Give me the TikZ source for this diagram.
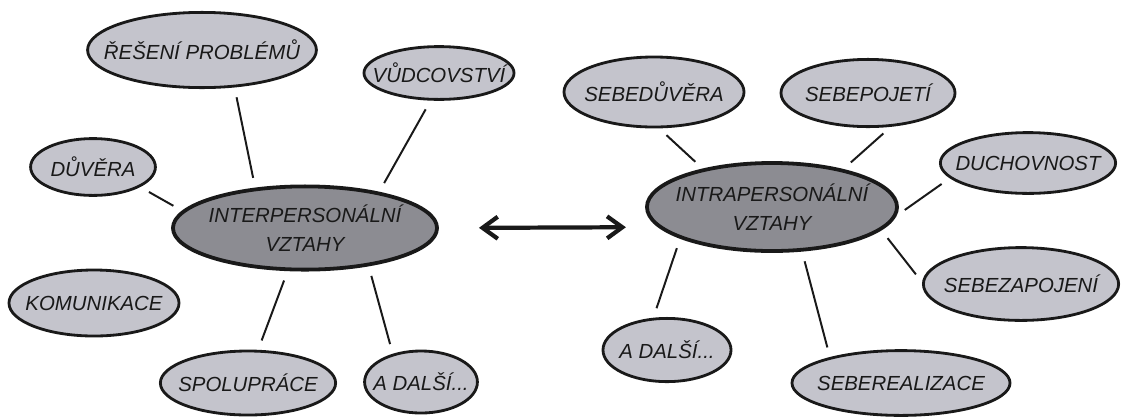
\documentclass[tikz,border=0pt]{standalone}
\usepackage{fontspec}
\setmainfont{Liberation Sans}
\usetikzlibrary{shapes.geometric, arrows.meta}

\definecolor{leaf}{RGB}{196,196,204}
\definecolor{hubgray}{RGB}{140,140,146}
\definecolor{ink}{RGB}{25,25,25}

\begin{document}
\begin{tikzpicture}[x=0.025cm, y=-0.025cm,
 idea/.style={ellipse, draw=ink, line width=2pt, fill=leaf, inner sep=0pt},
 hub/.style={idea, line width=2.7pt, fill=hubgray},
 size/.style 2 args={minimum width=#1cm, minimum height=#2cm},
 every label/.style={align=center, text=ink, font=\fontsize{14.5}{21}\selectfont\itshape},
 link/.style={draw=ink, line width=1.4pt, shorten <=0.25cm, shorten >=0.25cm}]

  \useasboundingbox (0,0) rectangle (1122,416);

  % the two hubs
  \node[hub, size={6.6}{2.08}, label=center:{INTERPERSONÁLNÍ\\VZTAHY}] (inter) at (305,228) {};
  \node[hub, size={6.25}{2.2}, label=center:{INTRAPERSONÁLNÍ\\VZTAHY}] (intra) at (772,207) {};

  % left side
  \node[idea, size={5.72}{1.88}, label=center:{ŘEŠENÍ PROBLÉMŮ}] (reseni) at (202,50) {};
  \node[idea, size={3.75}{1.32}, label=center:{VŮDCOVSTVÍ}] (vudcovstvi) at (439,73) {};
  \node[idea, size={3.12}{1.42}, label=center:{DŮVĚRA}] (duvera) at (93,167) {};
  \node[idea, size={4.25}{1.65}, label=center:{KOMUNIKACE}] (komunikace) at (94,303) {};
  \node[idea, size={4.38}{1.6}, label=center:{SPOLUPRÁCE}] (spoluprace) at (248,383) {};
  \node[idea, size={2.82}{1.55}, label=center:{A DALŠÍ...}] (dalsiA) at (421,382) {};

  % right side
  \node[idea, size={4.5}{1.75}, label=center:{SEBEDŮVĚRA}] (sebeduvera) at (654,92) {};
  \node[idea, size={4.35}{1.68}, label=center:{SEBEPOJETÍ}] (sebepojeti) at (868,93) {};
  \node[idea, size={4.38}{1.52}, label=center:{DUCHOVNOST}] (duchovnost) at (1028,163) {};
  \node[idea, size={4.88}{1.82}, label=center:{SEBEZAPOJENÍ}] (sebezapojeni) at (1021,284) {};
  \node[idea, size={5.45}{1.62}, label=center:{SEBEREALIZACE}] (seberealizace) at (901,383) {};
  \node[idea, size={3.2}{1.58}, label=center:{A DALŠÍ...}] (dalsiB) at (667,350) {};

  \foreach \s/\a/\t/\b in {reseni/-49/inter/141, vudcovstvi/-107/inter/26,
      duvera/-23/inter/172, spoluprace/73/inter/-112, dalsiA/135/inter/-31,
      sebeduvera/-82/intra/151, sebepojeti/-56/intra/28, duchovnost/191/intra/-4,
      sebezapojeni/179/intra/-12, seberealizace/160/intra/-56, dalsiB/113/intra/-161} {
   \draw[link] (\s.\a) -- (\t.\b);}

  \draw[ink, line width=3pt, {Straight Barb[length=0.38cm,width=0.55cm]}-{Straight Barb[length=0.38cm,width=0.55cm]},
    shorten <=1cm, shorten >=0.8cm] (inter.east) -- (intra.190);

\end{tikzpicture}
\end{document}
